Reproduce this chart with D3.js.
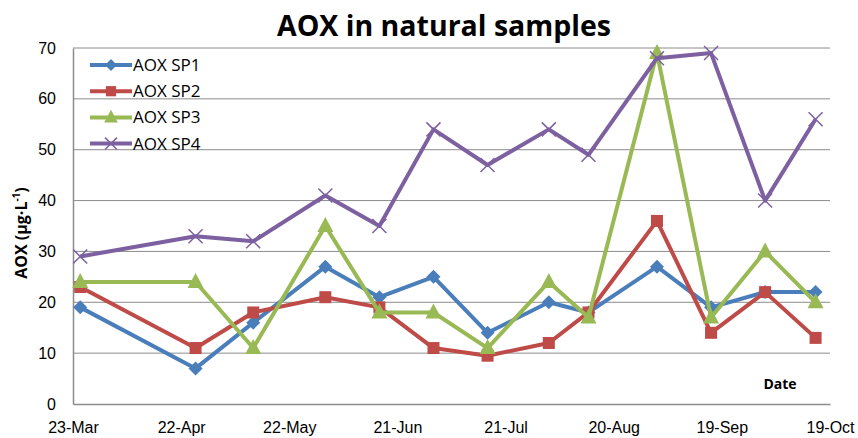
<!DOCTYPE html>
<html>
<head>
<meta charset="utf-8">
<script src="https://cdn.jsdelivr.net/npm/d3@7"></script>
<style>
  body { margin: 0; background: #fff; }
  svg { font-family: "Open Sans", "Noto Sans", sans-serif; }
</style>
</head>
<body>
<svg id="chart" width="858" height="438"></svg>
<script>
// sampling dates (day-month, same year)
const sampleDates = ["25-Mar", "26-Apr", "12-May", "1-Jun", "16-Jun", "1-Jul", "16-Jul",
  "2-Aug", "13-Aug", "1-Sep", "16-Sep", "1-Oct", "15-Oct"]
const tickDates = ["23-Mar", "22-Apr", "22-May", "21-Jun", "21-Jul", "20-Aug", "19-Sep", "19-Oct"]
const yTicks = [0, 10, 20, 30, 40, 50, 60, 70]

const sp1 = [19, 7, 16, 27, 21, 25, 14, 20, 18, 27, 19, 22, 22]
const sp2 = [23, 11, 18, 21, 19, 11, 9.5, 12, 18, 36, 14, 22, 13]
const sp3 = [24, 24, 11, 35, 18, 18, 11, 24, 17, 69, 17, 30, 20]
const sp4 = [29, 33, 32, 41, 35, 54, 47, 54, 49, 68, 69, 40, 56]

const seriesNames = ["AOX SP1", "AOX SP2", "AOX SP3", "AOX SP4"]
const colors = ["#4a7ebb", "#be4b48", "#98b954", "#7d60a0"]
const markers = ["diamond", "square", "triangle", "cross"]

let parse = d3.timeParse("%d-%b-%Y")
let dates = sampleDates.map(d => parse(d + "-2013"))
let ticks = tickDates.map(d => parse(d + "-2013"))

let
  plotLeft = 73, plotRight = 830,
  plotTop = 48, plotBottom = 404

let svg = d3.select("#chart")

let x = d3.scaleTime().domain([ticks[0], ticks[ticks.length - 1]]).range([plotLeft, plotRight])
let y = d3.scaleLinear().domain([0, 70]).range([plotBottom, plotTop])

// gridlines
svg.append("g")
  .selectAll("line")
  .data(yTicks.slice(1))
  .join("line")
  .attr("x1", plotLeft).attr("x2", plotRight)
  .attr("y1", d => y(d)).attr("y2", d => y(d))
  .attr("stroke", "#8c8c8c").attr("stroke-width", 1)

// axes
let yAxis = svg.append("g")
  .attr("transform", `translate(${plotLeft},0)`)
  .call(d3.axisLeft(y).tickValues(yTicks).tickSize(0).tickPadding(17))
yAxis.select(".domain").attr("stroke", "#8c8c8c").attr("stroke-width", 1.5)
yAxis.selectAll("text").attr("font-size", 16).attr("fill", "#000")

let xAxis = svg.append("g")
  .attr("transform", `translate(0,${plotBottom})`)
  .call(d3.axisBottom(x).tickValues(ticks).tickFormat(d3.timeFormat("%-d-%b")).tickSize(0).tickPadding(18))
xAxis.select(".domain").attr("stroke", "#8c8c8c").attr("stroke-width", 1.5)
xAxis.selectAll("text").attr("font-size", 16).attr("fill", "#000")

// title
svg.append("text")
  .attr("x", 444).attr("y", 36)
  .attr("text-anchor", "middle")
  .attr("font-size", 28.5).attr("font-weight", "bold")
  .text("AOX in natural samples")

svg.append("text")
  .attr("transform", "translate(27,233) rotate(-90)")
  .attr("text-anchor", "middle")
  .attr("font-size", 16).attr("font-weight", "bold")
  .html("AOX (µg·L<tspan dy='-7' font-size='10'>-1</tspan><tspan dy='7'>)</tspan>")

svg.append("text")
  .attr("x", 780).attr("y", 389)
  .attr("text-anchor", "middle")
  .attr("font-size", 14).attr("font-weight", "bold")
  .text("Date")

function drawMarker(g, type, color, k = 1) {
  if (type === "diamond") {
    g.append("path").attr("d", `M0,${-7 * k}L${7 * k},0L0,${7 * k}L${-7 * k},0Z`).attr("fill", color)
  } else if (type === "square") {
    g.append("rect").attr("x", -6 * k).attr("y", -6 * k).attr("width", 12 * k).attr("height", 12 * k).attr("fill", color)
  } else if (type === "triangle") {
    g.append("path").attr("d", `M0,${-9 * k}L${8 * k},${6 * k}L${-8 * k},${6 * k}Z`).attr("fill", color)
  } else {
    let r = 7 * k
    g.append("path").attr("d", `M${-r},${-r}L${r},${r}M${-r},${r}L${r},${-r}`).attr("stroke", color).attr("stroke-width", 1.5)
  }
}

let allSeries = [sp1, sp2, sp3, sp4]
let line = d3.line().x((d, i) => x(dates[i])).y(d => y(d))

allSeries.forEach((vals, s) => {
  let g = svg.append("g")
  g.append("path")
    .datum(vals)
    .attr("d", line)
    .attr("fill", "none")
    .attr("stroke", colors[s])
    .attr("stroke-width", 4)
    .attr("stroke-linejoin", "round")
  vals.forEach((v, i) => {
    let m = g.append("g").attr("transform", `translate(${x(dates[i])},${y(v)})`)
    drawMarker(m, markers[s], colors[s])
  })
})

// legend
seriesNames.forEach((name, s) => {
  let ly = 65 + s * 26.2
  let g = svg.append("g")
  g.append("line")
    .attr("x1", 90).attr("x2", 132).attr("y1", ly).attr("y2", ly)
    .attr("stroke", colors[s]).attr("stroke-width", 4)
  drawMarker(g.append("g").attr("transform", `translate(111,${ly})`), markers[s], colors[s], 0.85)
  g.append("text")
    .attr("x", 133).attr("y", ly + 6)
    .attr("font-size", 17)
    .text(name)
})
</script>
</body>
</html>
